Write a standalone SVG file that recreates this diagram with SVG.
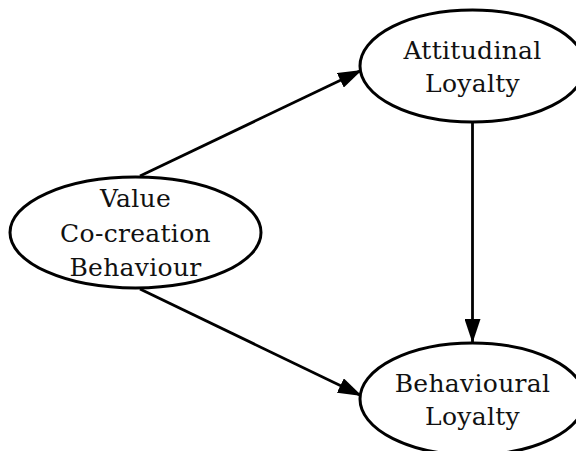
<svg xmlns="http://www.w3.org/2000/svg" width="576" height="451" viewBox="0 0 576 451">
<defs>
<marker id="ah" markerUnits="userSpaceOnUse" markerWidth="26" markerHeight="16" refX="24" refY="8" orient="auto">
<path d="M0,0 L24,8 L0,16 Z" fill="#000"/>
</marker>
<style>
.node ellipse{fill:#fff;stroke:#000;stroke-width:3}
.node text{font-family:"DejaVu Serif","Liberation Serif",serif;font-size:25px;letter-spacing:0.3px;fill:#111;text-anchor:middle}
.edge{stroke:#000;stroke-width:2.8;fill:none;marker-end:url(#ah)}
</style>
</defs>
<rect width="576" height="451" fill="#fff"/>
<g id="connectors">
<line class="edge" x1="140" y1="176" x2="362" y2="70"/>
<line class="edge" x1="140" y1="289" x2="362" y2="396"/>
<line class="edge" x1="472.5" y1="122" x2="472.5" y2="343"/>
</g>
<g id="value" class="node">
<ellipse cx="135.5" cy="232.5" rx="125.5" ry="55.5"/>
<text x="135.5" y="207">Value</text>
<text x="135.5" y="241.5">Co-creation</text>
<text x="135.5" y="276">Behaviour</text>
</g>
<g id="attitudinal" class="node">
<ellipse cx="472.5" cy="66" rx="112.5" ry="56"/>
<text x="472.5" y="59">Attitudinal</text>
<text x="472.5" y="92">Loyalty</text>
</g>
<g id="behavioural" class="node">
<ellipse cx="472.5" cy="399" rx="112.5" ry="56"/>
<text x="472.5" y="392">Behavioural</text>
<text x="472.5" y="425">Loyalty</text>
</g>
</svg>
